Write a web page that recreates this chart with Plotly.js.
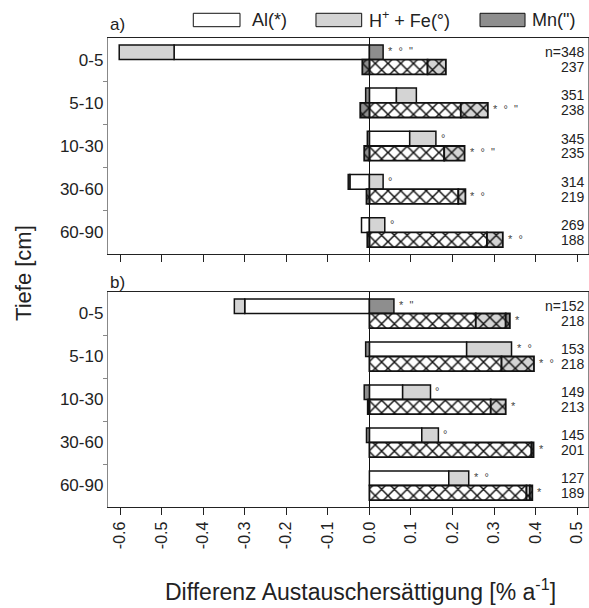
<!DOCTYPE html>
<html>
<head>
<meta charset="utf-8">
<script src="https://cdn.plot.ly/plotly-3.0.1.min.js"></script>
<style>html,body{margin:0;padding:0;background:#fff;}</style>
</head>
<body>
<div id="chart" style="width:589px;height:608px;"></div>
<script>
// ---------- data ----------
const categories = ['0-5', '5-10', '10-30', '30-60', '60-90'];
const boundaries = [0.5, 1.5, 2.5, 3.5];
const xTickVals = [-0.6, -0.5, -0.4, -0.3, -0.2, -0.1, 0.0, 0.1, 0.2, 0.3, 0.4, 0.5];
const xTickText = ['-0.6', '-0.5', '-0.4', '-0.3', '-0.2', '-0.1', '0.0', '0.1', '0.2', '0.3', '0.4', '0.5'];
const seriesNames = ['Al(*)', 'H<sup>+</sup> + Fe(°)', 'Mn(")'];

// panel a) – upper (plain) bars
const aUpAl = [-0.470, 0.065, 0.097, -0.047, -0.019];
const aUpHF = [-0.132, 0.048, 0.063, 0.033, 0.037];
const aUpMn = [0.033, -0.009, -0.005, -0.004, null];
// panel a) – lower (hatched) bars
const aLoAl = [0.140, 0.220, 0.180, 0.214, 0.283];
const aLoHF = [0.044, 0.065, 0.049, 0.017, 0.038];
const aLoMn = [-0.017, -0.022, -0.0125, -0.007, -0.005];
// panel b) – upper (plain) bars
const bUpAl = [-0.300, 0.234, 0.080, 0.126, 0.191];
const bUpHF = [-0.025, 0.108, 0.067, 0.040, 0.048];
const bUpMn = [0.059, -0.009, -0.0125, -0.007, null];
// panel b) – lower (hatched) bars
const bLoAl = [0.256, 0.318, 0.292, 0.390, 0.378];
const bLoHF = [0.072, 0.078, 0.036, null, 0.008];
const bLoMn = [0.010, null, -0.004, 0.005, 0.006];

// sample sizes
const aUpN = ['n=348', '351', '345', '314', '269'];
const aLoN = ['237', '238', '235', '219', '188'];
const bUpN = ['n=152', '153', '149', '145', '127'];
const bLoN = ['218', '218', '213', '201', '189'];

// significance markers
const aUpSig = ['* ° "', '', '°', '°', '°'];
const aLoSig = ['', '* ° "', '* ° "', '* °', '* °'];
const bUpSig = ['* "', '* °', '°', '°', '* °'];
const bLoSig = ['*', '* °', '*', '*', '*'];

// ---------- styles ----------
const colors = ['#ffffff', '#d4d4d4', '#8e8e8e'];
const OFF = 0.17, BW = 0.34;
const FONT = 'Liberation Sans, Arial, Helvetica, sans-serif';
const traces = [];
const annotations = [];

function addGroup(xa, ya, sign, al, hf, mn, hatched, nLabels, sig) {
  const yPos = categories.map((c, i) => i + sign * OFF);
  [al, hf, mn].forEach((vals, s) => {
    const marker = {
      color: colors[s],
      line: {color: '#111', width: hatched ? 1.8 : 1.5}
    };
    if (hatched) {
      marker.pattern = {shape: 'x', fgcolor: '#111', bgcolor: colors[s], size: 9, solidity: 0.3, fillmode: 'replace'};
    }
    traces.push({
      type: 'bar', orientation: 'h', x: vals, y: yPos, width: BW,
      xaxis: xa, yaxis: ya, name: seriesNames[s], marker: marker,
      hoverinfo: 'skip', showlegend: false
    });
  });
  categories.forEach((c, i) => {
    const pos = [al[i], hf[i], mn[i]].reduce((s, v) => s + (v && v > 0 ? v : 0), 0);
    if (sig[i]) {
      annotations.push({
        text: sig[i].split(' ').join('\u00a0\u00a0'), x: pos, y: yPos[i], xref: xa, yref: ya,
        xanchor: 'left', yanchor: 'middle', xshift: 3, yshift: 1, showarrow: false,
        font: {size: 11, color: '#444', family: FONT}
      });
    }
    annotations.push({
      text: nLabels[i], x: 1, y: yPos[i], xref: 'paper', yref: ya,
      xanchor: 'right', yanchor: 'middle', xshift: -1, showarrow: false,
      font: {size: 14, color: '#222', family: FONT}
    });
  });
}

addGroup('x', 'y', -1, aUpAl, aUpHF, aUpMn, false, aUpN, aUpSig);
addGroup('x', 'y', 1, aLoAl, aLoHF, aLoMn, true, aLoN, aLoSig);
addGroup('x2', 'y2', -1, bUpAl, bUpHF, bUpMn, false, bUpN, bUpSig);
addGroup('x2', 'y2', 1, bLoAl, bLoHF, bLoMn, true, bLoN, bLoSig);

// empty helper traces so the tick-only overlay axes are drawn
traces.push({type: 'scatter', mode: 'markers', x: [], y: [], xaxis: 'x', yaxis: 'y3', hoverinfo: 'skip', showlegend: false});
traces.push({type: 'scatter', mode: 'markers', x: [], y: [], xaxis: 'x2', yaxis: 'y4', hoverinfo: 'skip', showlegend: false});

// panel labels, axis titles
annotations.push({text: 'a)', xref: 'paper', yref: 'paper', x: 0, y: 1.029, xanchor: 'left', yanchor: 'middle', showarrow: false, font: {size: 17, color: '#222', family: FONT}});
annotations.push({text: 'b)', xref: 'paper', yref: 'paper', x: 0, y: 0.478, xanchor: 'left', yanchor: 'middle', showarrow: false, font: {size: 17, color: '#222', family: FONT}});
annotations.push({text: 'Tiefe [cm]', xref: 'paper', yref: 'paper', x: -0.175, y: 0.499, textangle: -90, xanchor: 'center', yanchor: 'middle', showarrow: false, font: {size: 22, color: '#222', family: FONT}});
annotations.push({text: 'Differenz Austauschersättigung [% a<sup>-1</sup>]', xref: 'paper', yref: 'paper', x: 0.525, y: -0.177, xanchor: 'center', yanchor: 'middle', showarrow: false, font: {size: 23, color: '#222', family: FONT}});

// legend (drawn manually to get wide swatches)
const legX = [[0.1777, 0.275], [0.4333, 0.5285], [0.775, 0.8688]];
const legTextX = [0.2958, 0.539, 0.879];
const shapes = [];
legX.forEach((lx, s) => {
  shapes.push({type: 'rect', xref: 'paper', yref: 'paper', x0: lx[0], x1: lx[1], y0: 1.0241, y1: 1.0527, fillcolor: colors[s], line: {color: '#111', width: 1}});
  annotations.push({text: seriesNames[s], xref: 'paper', yref: 'paper', x: legTextX[s], y: 1.0384, xanchor: 'left', yanchor: 'middle', showarrow: false, font: {size: 18, color: '#222', family: FONT}});
});

const xBase = {
  range: [-0.629, 0.526], tickmode: 'array', tickvals: xTickVals, ticktext: xTickText,
  ticks: 'outside', ticklen: 7, tickwidth: 1, tickcolor: '#222',
  showline: true, linecolor: '#222', linewidth: 1.2, mirror: true,
  zeroline: true, zerolinecolor: '#111', zerolinewidth: 1.6, showgrid: false, fixedrange: true
};
const yBase = {
  range: [4.5, -0.5], tickmode: 'array', tickvals: [0, 1, 2, 3, 4], ticktext: categories,
  ticks: '', showline: true, linecolor: '#888', linewidth: 1.2, mirror: true,
  tickfont: {size: 17, color: '#222', family: FONT},
  zeroline: false, showgrid: false, fixedrange: true
};
// overlay axes carrying only the short boundary ticks between depth classes
const yTickOnly = {
  range: [4.5, -0.5], tickmode: 'array', tickvals: boundaries, showticklabels: false,
  ticks: 'outside', ticklen: 4, tickcolor: '#888', tickwidth: 1,
  showline: false, zeroline: false, showgrid: false, fixedrange: true, side: 'left'
};

const layout = {
  width: 589, height: 608,
  margin: {l: 108, r: 1, t: 38, b: 101},
  barmode: 'relative', bargap: 0,
  showlegend: false,
  paper_bgcolor: '#ffffff', plot_bgcolor: '#ffffff',
  font: {family: FONT, color: '#222'},
  xaxis: Object.assign({}, xBase, {domain: [0, 1], anchor: 'y', showticklabels: false}),
  xaxis2: Object.assign({}, xBase, {domain: [0, 1], anchor: 'y2', showticklabels: true, tickangle: -90, tickfont: {size: 16, color: '#222', family: FONT}}),
  yaxis: Object.assign({}, yBase, {domain: [0.5394, 1], anchor: 'x'}),
  yaxis2: Object.assign({}, yBase, {domain: [0, 0.4584], anchor: 'x2'}),
  yaxis3: Object.assign({}, yTickOnly, {overlaying: 'y', anchor: 'x'}),
  yaxis4: Object.assign({}, yTickOnly, {overlaying: 'y2', anchor: 'x2'}),
  annotations: annotations,
  shapes: shapes
};

Plotly.newPlot('chart', traces, layout, {staticPlot: true, displayModeBar: false});
</script>
</body>
</html>
